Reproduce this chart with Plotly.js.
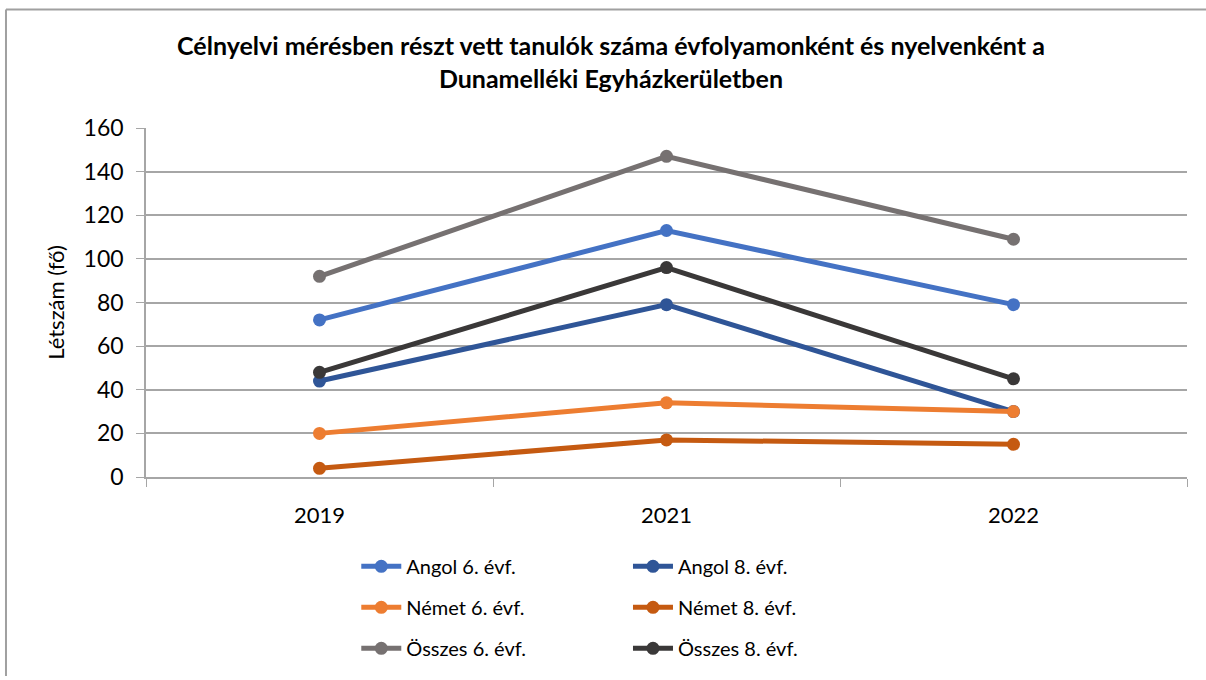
<!DOCTYPE html>
<html>
<head>
<meta charset="utf-8">
<script src="https://cdn.plot.ly/plotly-3.0.1.min.js"></script>
<style>html,body{margin:0;padding:0;background:#fff;}#chart{width:1206px;height:680px;}</style>
</head>
<body>
<div id="chart"></div>
<script>
const years = ["2019", "2021", "2022"];
const seriesNames = ["Angol 6. évf.", "Angol 8. évf.", "Német 6. évf.", "Német 8. évf.", "Összes 6. évf.", "Összes 8. évf."];
const angol6 = [72, 113, 79];
const angol8 = [44, 79, 30];
const nemet6 = [20, 34, 30];
const nemet8 = [4, 17, 15];
const osszes6 = [92, 147, 109];
const osszes8 = [48, 96, 45];
const yTicks = [0, 20, 40, 60, 80, 100, 120, 140, 160];

const seriesValues = [angol6, angol8, nemet6, nemet8, osszes6, osszes8];
const colors = ["#4472C4", "#2F5597", "#ED7D31", "#C55A11", "#767171", "#3A3838"];
const legendIds = ["legend", "legend2", "legend", "legend2", "legend", "legend2"];

const FONT = "Lato, 'Liberation Sans', sans-serif";

const traces = seriesValues.map((vals, i) => ({
  type: "scatter",
  mode: "lines+markers",
  x: years,
  y: vals,
  name: seriesNames[i],
  legend: legendIds[i],
  legendgroup: "g" + i,
  line: { color: colors[i], width: 5 },
  marker: { color: colors[i], size: 13 },
  hoverinfo: "x+y+name"
}));

const layout = {
  width: 1206,
  height: 680,
  paper_bgcolor: "#ffffff",
  plot_bgcolor: "#ffffff",
  margin: { l: 146, r: 19, t: 128, b: 200 },
  font: { family: FONT, color: "#000000" },
  title: {
    text: "<b>Célnyelvi mérésben részt vett tanulók száma évfolyamonként és nyelvenként a<br>Dunamelléki Egyházkerületben</b>",
    font: { family: FONT, size: 25, color: "#000000" },
    x: 0.5066, xanchor: "center", xref: "container",
    y: 0.919, yanchor: "top"
  },
  xaxis: {
    type: "category",
    range: [-0.5, 2.5],
    tickson: "boundaries",
    ticks: "outside",
    ticklen: 8,
    tickcolor: "#a6a6a6",
    showline: true,
    linecolor: "#a6a6a6",
    linewidth: 1.5,
    showgrid: false,
    zeroline: false,
    tickfont: { family: FONT, size: 22, color: "#000000" },
    ticklabelstandoff: 18
  },
  yaxis: {
    range: [0, 160],
    tickvals: yTicks,
    ticktext: yTicks.map(String),
    ticks: "outside",
    ticklen: 8,
    tickcolor: "#a6a6a6",
    showline: true,
    linecolor: "#a6a6a6",
    linewidth: 1.5,
    showgrid: true,
    gridcolor: "#a6a6a6",
    gridwidth: 1.5,
    zeroline: false,
    tickfont: { family: FONT, size: 23, color: "#000000" },
    ticklabelstandoff: 8,
    title: { text: "Létszám (fő)", font: { family: FONT, size: 22, color: "#000000" }, standoff: 13 }
  },
  legend: {
    orientation: "v",
    x: 0.202, xanchor: "left",
    y: -0.2, yanchor: "top",
    font: { family: FONT, size: 20, color: "#000000" },
    tracegroupgap: 12,
    bgcolor: "rgba(0,0,0,0)",
    itemwidth: 40
  },
  legend2: {
    orientation: "v",
    x: 0.463, xanchor: "left",
    y: -0.2, yanchor: "top",
    font: { family: FONT, size: 20, color: "#000000" },
    tracegroupgap: 12,
    bgcolor: "rgba(0,0,0,0)",
    itemwidth: 40
  },
  shapes: [
    { type: "line", xref: "paper", yref: "paper", x0: -0.1345, x1: 1.02, y0: 1.3395, y1: 1.3395, line: { color: "#a0a0a0", width: 2 } },
    { type: "line", xref: "paper", yref: "paper", x0: -0.1345, x1: -0.1345, y0: 1.3395, y1: -0.57, line: { color: "#a0a0a0", width: 2 } }
  ]
};

Plotly.newPlot("chart", traces, layout, { displayModeBar: false, responsive: false });
</script>
</body>
</html>
